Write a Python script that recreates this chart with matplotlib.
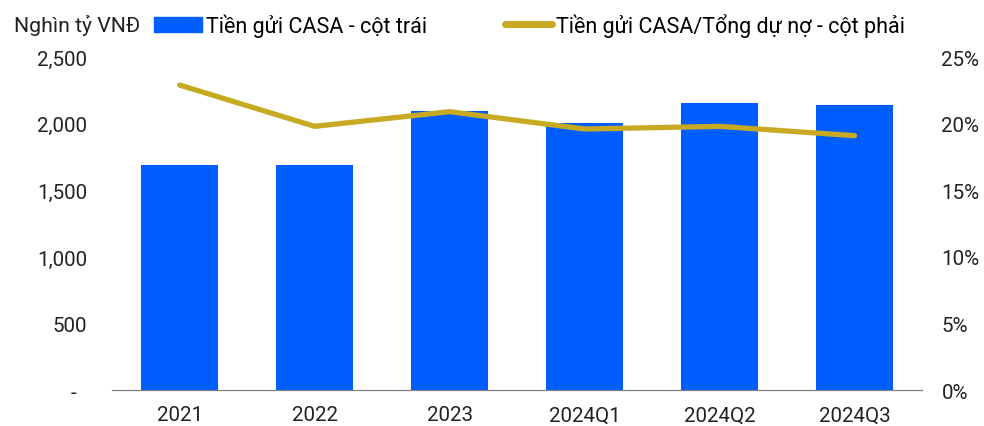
import matplotlib.pyplot as plt
import numpy as np
from matplotlib.patches import Patch
from matplotlib.lines import Line2D

plt.rcParams['font.family'] = ['Roboto', 'DejaVu Sans']

# data
periods = ['2021', '2022', '2023', '2024Q1', '2024Q2', '2024Q3']
casa = [1688, 1688, 2095, 2005, 2155, 2140]          # nghìn tỷ VNĐ
casa_ratio = [22.9, 19.8, 20.9, 19.6, 19.8, 19.1]    # %

blue = '#005EFF'
gold = '#C8AA22'
fs = 14.8

fig = plt.figure(figsize=(9.84, 4.27), dpi=100)
ax = fig.add_axes([0.114, 0.084, 0.823, 0.78])
ax2 = ax.twinx()

x = np.arange(len(periods))
ax.bar(x, casa, width=0.57, color=blue, zorder=2)
ax2.plot(x, casa_ratio, color=gold, lw=3.8, solid_capstyle='round', solid_joinstyle='round', zorder=3)

ax.set_xlim(-0.5, len(periods) - 0.5)
ax.set_ylim(0, 2500)
ax2.set_ylim(0, 25)
ax.set_yticks([0, 500, 1000, 1500, 2000, 2500])
ax.set_yticklabels(['-  ', '500', '1,000', '1,500', '2,000', '2,500'])
ax2.set_yticks([0, 5, 10, 15, 20, 25])
ax2.set_yticklabels([f'{v}%' for v in [0, 5, 10, 15, 20, 25]])
ax.set_xticks(x)
ax.set_xticklabels(periods)

for a in (ax, ax2):
    for s in ['top', 'left', 'right']:
        a.spines[s].set_visible(False)
    a.spines['bottom'].set_color('#808080')
    a.tick_params(length=0, labelsize=fs, colors='#222222')
ax.tick_params(axis='y', pad=18)
ax2.tick_params(axis='y', pad=14)
ax.tick_params(axis='x', pad=11)

fig.text(0.014, 0.94, 'Nghìn tỷ VNĐ', fontsize=15.3, color='#222222', va='center')

handles = [Patch(color=blue), Line2D([0], [0], color=gold, lw=5, solid_capstyle='round')]
labels = ['Tiền gửi CASA - cột trái', 'Tiền gửi CASA/Tổng dự nợ - cột phải']
fig.legend(handles, labels, loc='center left', bbox_to_anchor=(0.157, 0.94), ncol=2,
           frameon=False, fontsize=15.5, handlelength=2.2, handletextpad=0.2,
           columnspacing=3.6, borderaxespad=0, borderpad=0)

fig.savefig('out.png', dpi=100)
